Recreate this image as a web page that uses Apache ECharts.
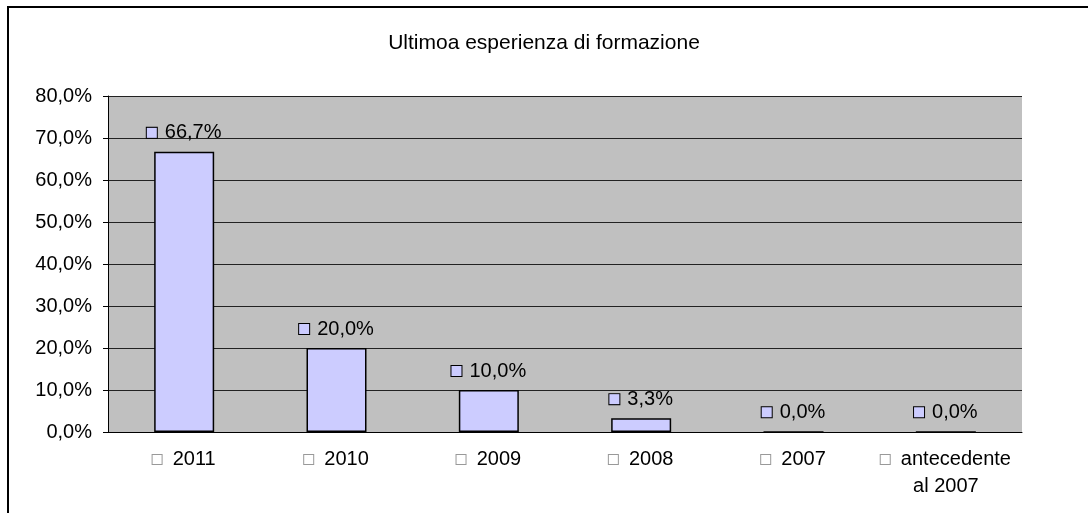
<!DOCTYPE html>
<html>
<head>
<meta charset="utf-8">
<script src="https://cdn.jsdelivr.net/npm/echarts@6/dist/echarts.min.js"></script>
<style>
  html, body { margin: 0; padding: 0; background: #fff; }
  #chart { width: 1088px; height: 513px; }
</style>
</head>
<body>
<div id="chart"></div>
<script>
let titleText = 'Ultimoa esperienza di formazione';
let categories = ['2011', '2010', '2009', '2008', '2007', 'antecedente\nal 2007'];
let values = [66.7, 20.0, 10.0, 3.3, 0.0, 0.0];
let yTicks = { min: 0, max: 80, interval: 10 };

let fmt = (v) => v.toFixed(1).replace('.', ',') + '%';
let font = 'Liberation Sans';
let fs = 20;

let chart = echarts.init(document.getElementById('chart'));

let options = {
  backgroundColor: '#ffffff',
  animation: false,
  title: {
    text: titleText,
    left: 'center',
    top: 28,
    textStyle: { fontFamily: font, fontSize: 21, fontWeight: 'normal', color: '#000' },
  },
  grid: {
    left: 108,
    top: 96,
    right: 66,
    bottom: 81,
    show: true,
    backgroundColor: '#c0c0c0',
    borderWidth: 0,
  },
  graphic: [
    {
      type: 'rect',
      shape: { x: 8, y: 7, width: 1300, height: 700 },
      style: { fill: 'none', stroke: '#000', lineWidth: 2 },
      silent: true,
    },
  ],
  xAxis: {
    type: 'category',
    data: categories,
    axisLine: { lineStyle: { color: '#000', width: 1 } },
    axisTick: { length: 5, lineStyle: { color: '#000' } },
    axisLabel: {
      interval: 0,
      margin: 14,
      fontFamily: font,
      fontSize: fs,
      color: '#000',
      lineHeight: 27,
      formatter: (v) => '{b|}  ' + v,
      rich: {
        b: {
          width: 9,
          height: 9,
          backgroundColor: '#fff',
          borderColor: '#999',
          borderWidth: 1,
        },
      },
    },
  },
  yAxis: {
    type: 'value',
    min: yTicks.min,
    max: yTicks.max,
    interval: yTicks.interval,
    axisLine: { show: true, lineStyle: { color: '#000', width: 1 } },
    axisTick: { show: true, length: 5, lineStyle: { color: '#000' } },
    splitLine: { show: true, lineStyle: { color: '#222', width: 1 } },
    axisLabel: {
      margin: 16,
      fontFamily: font,
      fontSize: fs,
      color: '#000',
      formatter: fmt,
    },
  },
  series: [
    {
      type: 'bar',
      data: values,
      barWidth: 60,
      itemStyle: { color: '#ccccff', borderColor: '#000', borderWidth: 1.5 },
      label: {
        show: true,
        position: 'top',
        distance: 9,
        fontFamily: font,
        fontSize: fs,
        color: '#000',
        formatter: (p) => '{b|}{g|}' + fmt(p.value),
        rich: {
          b: {
            width: 10,
            height: 10,
            backgroundColor: '#ccccff',
            borderColor: '#000',
            borderWidth: 1,
          },
          g: { width: 8 },
        },
      },
    },
  ],
};

chart.setOption(options);
</script>
</body>
</html>
